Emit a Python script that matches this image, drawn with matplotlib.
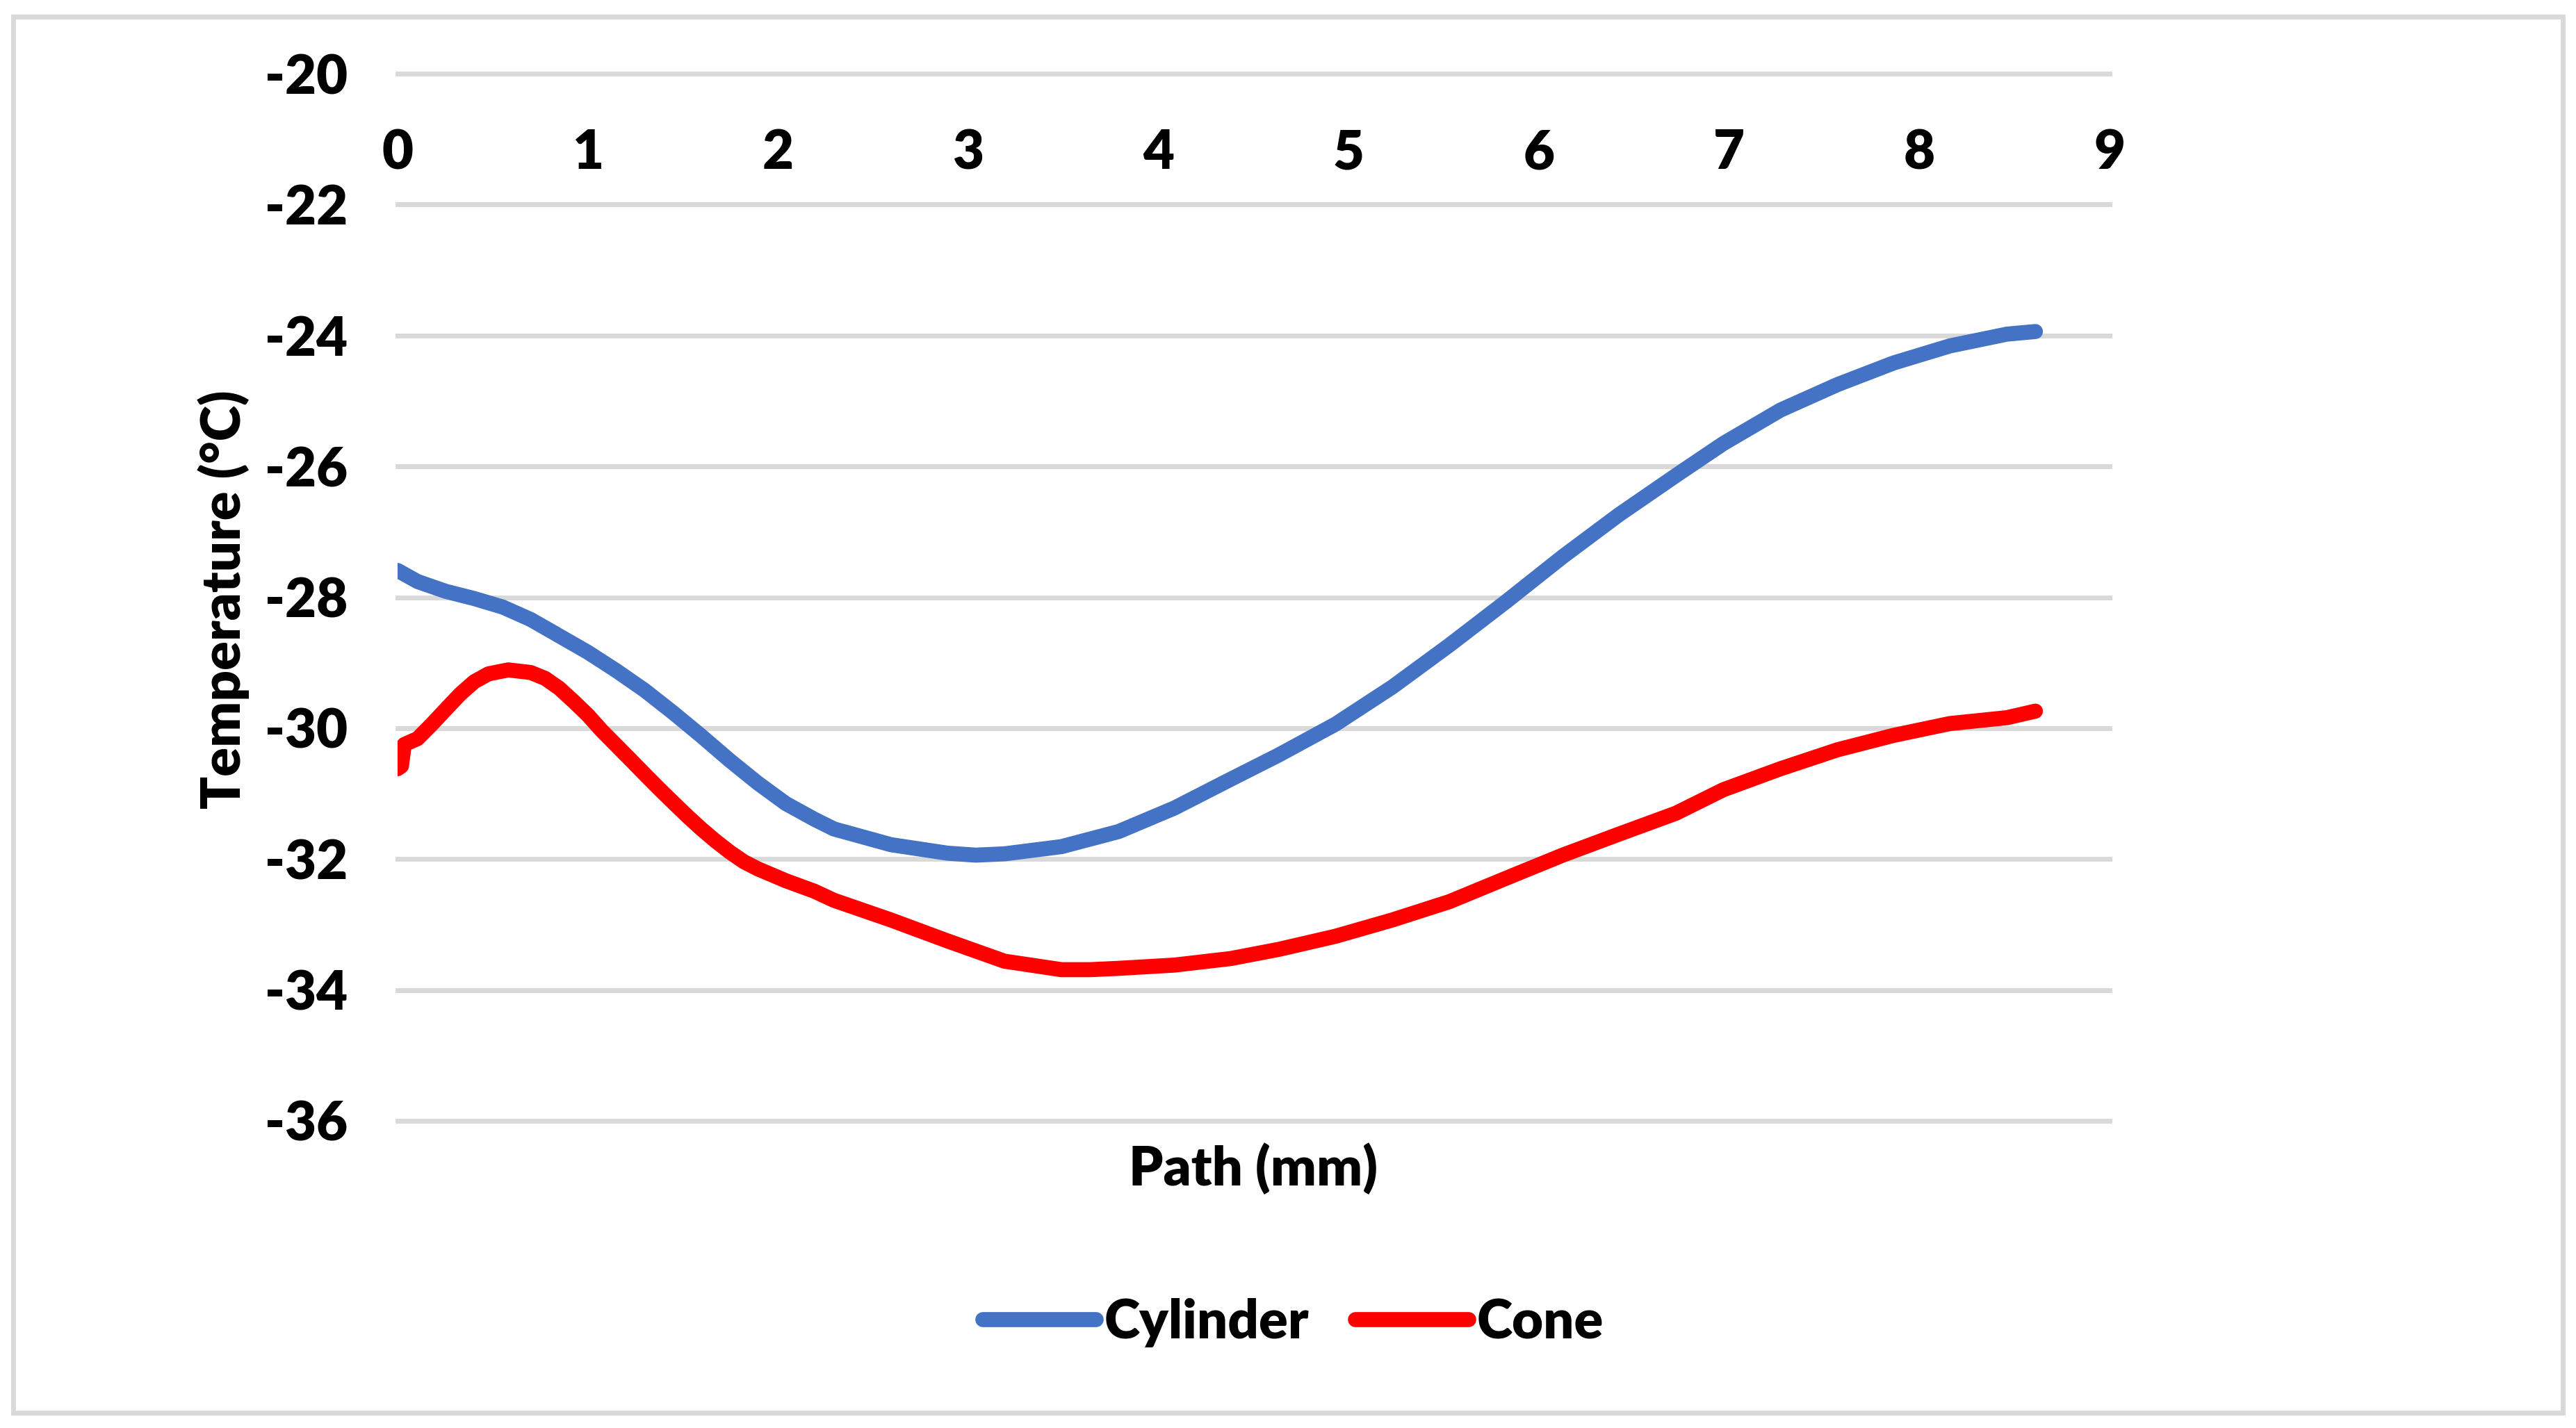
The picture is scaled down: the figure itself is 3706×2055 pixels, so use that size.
import matplotlib
matplotlib.use('Agg')
import matplotlib.pyplot as plt
from matplotlib.patches import Rectangle

# ---- data ----
cyl_x = [0, 0.105, 0.254, 0.403, 0.553, 0.70, 0.85, 1.0, 1.149, 1.298, 1.447, 1.597,
         1.745, 1.894, 2.04, 2.19, 2.294, 2.593, 2.89, 3.04, 3.19, 3.49, 3.79, 4.084,
         4.38, 4.632, 4.93, 5.23, 5.53, 5.83, 6.125, 6.42, 6.72, 6.97, 7.27, 7.57,
         7.865, 8.16, 8.46, 8.61]
cyl_y = [-27.59, -27.76, -27.91, -28.02, -28.15, -28.34, -28.59, -28.84, -29.12, -29.42,
         -29.76, -30.12, -30.49, -30.84, -31.15, -31.39, -31.54, -31.78, -31.91, -31.94,
         -31.92, -31.81, -31.58, -31.22, -30.78, -30.41, -29.94, -29.37, -28.73, -28.06,
         -27.38, -26.74, -26.14, -25.65, -25.14, -24.75, -24.42, -24.16, -23.98, -23.94]

cone_x = [0, 0.02, 0.035, 0.105, 0.18, 0.254, 0.329, 0.403, 0.478, 0.582, 0.70, 0.776,
          0.85, 0.925, 1.0, 1.074, 1.149, 1.224, 1.298, 1.373, 1.447, 1.522, 1.597, 1.67,
          1.745, 1.82, 1.894, 2.04, 2.19, 2.294, 2.593, 2.89, 3.19, 3.49, 3.64, 3.79,
          4.084, 4.38, 4.632, 4.93, 5.23, 5.53, 5.83, 6.125, 6.42, 6.72, 6.97, 7.27,
          7.57, 7.865, 8.16, 8.46, 8.61]
cone_y = [-30.62, -30.58, -30.25, -30.16, -29.94, -29.71, -29.48, -29.29, -29.17, -29.11,
          -29.15, -29.24, -29.39, -29.59, -29.80, -30.04, -30.26, -30.48, -30.70, -30.92,
          -31.13, -31.34, -31.54, -31.72, -31.89, -32.04, -32.15, -32.33, -32.49, -32.63,
          -32.93, -33.25, -33.56, -33.69, -33.69, -33.67, -33.62, -33.52, -33.38, -33.18,
          -32.93, -32.65, -32.29, -31.94, -31.62, -31.30, -30.94, -30.62, -30.33, -30.11,
          -29.93, -29.84, -29.74]

x_ticks = list(range(0, 10))
y_ticks = list(range(-36, -19, 2))
series_names = ['Cylinder', 'Cone']
series_colors = ['#4472C4', '#FF0000']

# ---- figure ----
plt.rcParams['font.family'] = ['Lato', 'DejaVu Sans']
plt.rcParams['font.weight'] = 'heavy'
plt.rcParams['axes.unicode_minus'] = False

W, H, DPI = 3706, 2055, 200
fig = plt.figure(figsize=(W / DPI, H / DPI), dpi=DPI)
fig.patch.set_facecolor('white')

left, right, top, bottom = 572 / W, 3035 / W, 1 - 106 / H, 1 - 1613 / H
ax = fig.add_axes([left, bottom, right - left, top - bottom])

ax.plot(cyl_x, cyl_y, color=series_colors[0], lw=7.8, solid_capstyle='round',
        solid_joinstyle='round', label=series_names[0], zorder=3)
ax.plot(cone_x, cone_y, color=series_colors[1], lw=7.8, solid_capstyle='round',
        solid_joinstyle='round', label=series_names[1], zorder=3)

ax.set_xlim(0, 9)
ax.set_ylim(-36, -20)
ax.set_xticks(x_ticks)
ax.set_yticks(y_ticks)

ax.grid(axis='y', color='#D9D9D9', lw=2.5)
ax.grid(axis='x', visible=False)
ax.set_axisbelow(True)
for gl in ax.get_ygridlines():
    gl.set_clip_on(False)

for s in ax.spines.values():
    s.set_visible(False)
ax.spines['bottom'].set_position(('data', -20))

ax.tick_params(axis='both', length=0, labelsize=28)
ax.tick_params(axis='x', pad=28.5)
ax.tick_params(axis='y', pad=26)
for lbl in ax.get_xticklabels() + ax.get_yticklabels():
    lbl.set_fontweight('heavy')

ax.set_xlabel('Path (mm)', fontsize=28, fontweight='heavy')
ax.xaxis.set_label_coords(0.5, -0.0206)
ax.set_ylabel('Temperature (°C)', fontsize=28, fontweight='heavy')
ax.yaxis.set_label_coords(-0.0865, 0.4977)

fig.legend(loc='center', bbox_to_anchor=(0.502, 0.0735), ncol=2, frameon=False,
           handlelength=2.1, handletextpad=0.15, columnspacing=0.85,
           prop={'weight': 'heavy', 'size': 28})

fig.patches.append(Rectangle((19 / W, 1 - 2033 / H), (3687 - 19) / W, (2033 - 24) / H,
                             transform=fig.transFigure, fill=False,
                             edgecolor='#D9D9D9', lw=2.5))

fig.savefig('out.png', dpi=DPI, facecolor='white')
